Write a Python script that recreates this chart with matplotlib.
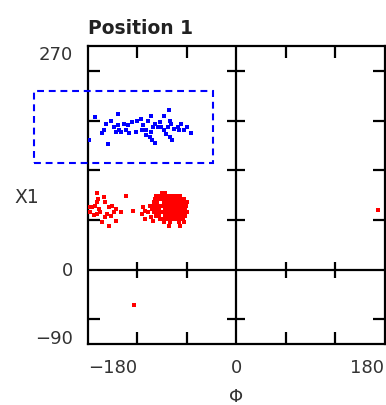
import matplotlib
matplotlib.use('Agg')
import matplotlib.pyplot as plt
from matplotlib.patches import Rectangle

# data (phi, chi1) in degrees
blue_phi = [-171, -179, -156, -143, -152, -161, -163, -149, -146, -142, -140, -136,
            -132, -134, -130, -144, -120, -122, -82, -103, -107, -116, -113, -115,
            -109, -99, -101, -103, -102, -99, -91, -88, -85, -81, -79, -83,
            -81, -78, -71, -67, -69, -63, -55, -95, -105, -126, -92, -75,
            -110, -88, -60, -158]
blue_chi = [184, 156, 152, 188, 180, 169, 165, 172, 166, 169, 166, 176,
            174, 168, 165, 174, 180, 166, 193, 186, 180, 182, 174, 168,
            168, 176, 172, 166, 157, 153, 172, 168, 164, 180, 176, 172,
            160, 157, 172, 176, 168, 168, 165, 172, 160, 178, 178, 170,
            162, 185, 172, 176]

red_phi = [-169, -168, -169, -171, -179, -175, -167, -165, -169, -161, -159, -155,
           -151, -146, -148, -152, -157, -140, -159, -146, -155, -134, -125, -163,
           -173, -177, -113, -111, -107, -115, -103, -101, -111, -105, 172, -124,
           # dense cluster
           -90, -86,
           -97, -93, -89, -85, -80, -76, -72, -68,
           -99, -95, -91, -87, -83, -79, -75, -71, -67, -63,
           -100, -96, -88, -84, -80, -76, -72, -68, -64, -60,
           -101, -97, -93, -89, -85, -81, -77, -73, -69, -65, -61,
           -102, -98, -94, -86, -82, -78, -74, -70, -66, -62,
           -100, -96, -92, -88, -84, -80, -76, -72, -68, -64, -60,
           -98, -94, -86, -82, -78, -74, -70, -66, -62,
           -93, -89, -85, -81, -77, -73, -69, -65,
           -88, -80, -70, -63,
           -82, -68]
red_chi = [93, 85, 81, 77, 75, 75, 73, 69, 67, 87, 81, 76,
           77, 73, 69, 65, 67, 69, 63, 59, 53, 89, 71, 57,
           66, 70, 75, 71, 69, 67, 63, 59, 61, 77, 72, -43,
           93, 93,
           89, 89, 89, 89, 89, 89, 89, 89,
           85, 85, 85, 85, 85, 85, 85, 85, 85, 85,
           81, 81, 81, 81, 81, 81, 81, 81, 81, 81,
           77, 77, 77, 77, 77, 77, 77, 77, 77, 77, 77,
           73, 73, 73, 73, 73, 73, 73, 73, 73, 73,
           69, 69, 69, 69, 69, 69, 69, 69, 69, 69, 69,
           65, 65, 65, 65, 65, 65, 65, 65, 65,
           61, 61, 61, 61, 61, 61, 61, 61,
           57, 57, 57, 57,
           53, 53]

# highlight box (phi0, chi0, width, height)
box = (-246, 129, 218, 87)

x_major = [-180, 0, 180]
x_labels = ['\u2212180', '0', '180']
x_minor = [-120, -60, 60, 120]
y_major = [-90, 0, 270]
y_labels = ['\u221290', '0', '270']
y_minor = [-60, 60, 120, 180, 240]

txt = '#333333'
fig = plt.figure(figsize=(3.86, 4.05), dpi=100)
ax = fig.add_axes([88 / 386, 61 / 405, 296.5 / 386, 298 / 405])

ax.set_xlim(-180, 180)
ax.set_ylim(-90, 270)
for s in ax.spines.values():
    s.set_linewidth(1.6)

ax.axhline(0, color='black', lw=1.6, zorder=1)
ax.axvline(0, color='black', lw=1.6, zorder=1)
# crossing ticks on the inner axes
ax.plot(x_minor, [0] * len(x_minor), ls='none', marker='|', ms=11.5, mew=1.6, color='black', zorder=1)
ax.plot([0] * len(y_minor), y_minor, ls='none', marker='_', ms=13.5, mew=1.6, color='black', zorder=1)

ax.scatter(blue_phi, blue_chi, s=9, marker='s', color='#0000ff', linewidths=0, zorder=3)
ax.scatter(red_phi, red_chi, s=9, marker='s', color='#ff0000', linewidths=0, zorder=3)

ax.add_patch(Rectangle((box[0], box[1]), box[2], box[3], fill=False, ec='#0000ff',
                       lw=1.5, ls=(0, (3.3, 2.3)), clip_on=False, zorder=4))

ax.set_xticks(x_major)
ax.set_xticklabels(x_labels, fontsize=13, color=txt)
ax.set_xticks(x_minor, minor=True)
ax.set_yticks(y_major)
ax.set_yticklabels(y_labels, fontsize=13, color=txt)
ax.set_yticks(y_minor, minor=True)
ax.tick_params(which='major', length=0, pad=11)
ax.tick_params(which='minor', direction='in', length=8.5, width=1.6, top=True, right=True)

xl = ax.get_xticklabels()
xl[0].set_ha('left')
xl[2].set_ha('right')
yl = ax.get_yticklabels()
yl[0].set_va('baseline')
yl[2].set_va('top')

ax.set_title('Position 1', loc='left', fontweight='bold', fontsize=13.5, pad=8.5, color='#222222')
ax.set_ylabel('X1', rotation=0, fontsize=13.5, color=txt, ha='center', va='center')
ax.yaxis.set_label_coords(-0.206, 0.49)
ax.set_xlabel('\u03a6', fontsize=13, color=txt, va='center')
ax.xaxis.set_label_coords(0.5, -0.178)

fig.savefig('out.png', dpi=100)
